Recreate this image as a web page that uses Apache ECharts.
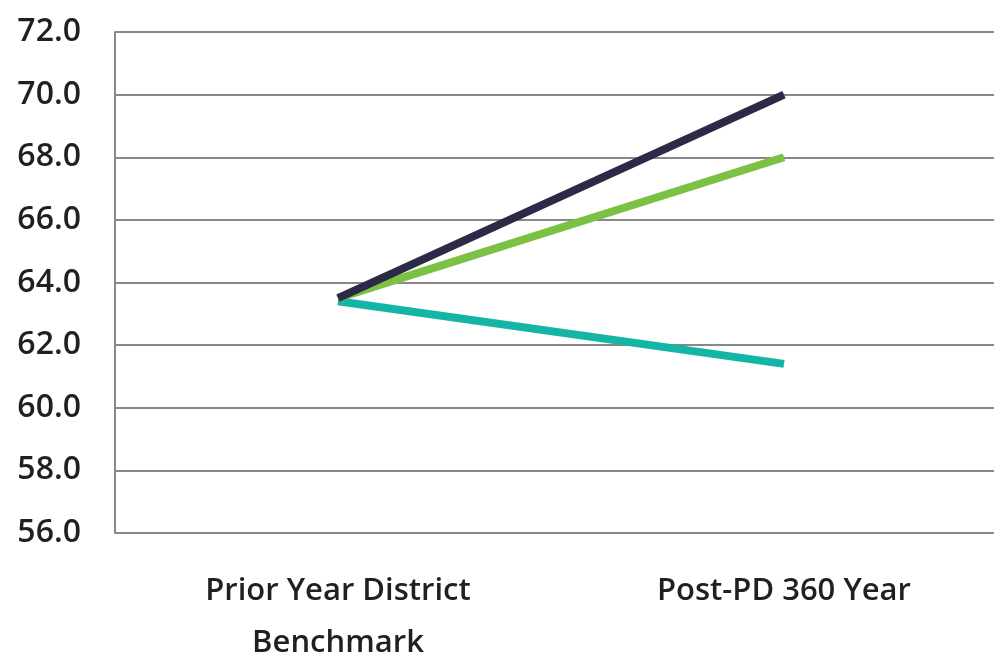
<!DOCTYPE html>
<html>
<head>
<meta charset="utf-8">
<script src="https://cdn.jsdelivr.net/npm/echarts@6/dist/echarts.min.js"></script>
<style>
  html, body { margin: 0; padding: 0; background: #fff; }
  #main { width: 994px; height: 660px; }
</style>
</head>
<body>
<div id="main"></div>
<script>
const categories = ['Prior Year District\nBenchmark', 'Post-PD 360 Year'];
const darkValues = [63.5, 70.0];
const greenValues = [63.5, 68.0];
const tealValues = [63.4, 61.4];

const myChart = echarts.init(document.getElementById('main'));

const lineSeries = function (name, data, color) {
    return {
        name: name,
        type: 'line',
        data: data,
        symbol: 'none',
        lineStyle: {color: color, width: 8, cap: 'butt'},
        emphasis: {disabled: true}
    };
};

let option = {
    animation: false,
    grid: {left: 115, right: -13, top: 32, bottom: 127, outerBoundsMode: 'none', containLabel: false},
    xAxis: {
        type: 'category',
        data: categories,
        boundaryGap: true,
        axisLine: {show: false},
        axisTick: {show: false},
        axisLabel: {
            margin: 32,
            color: '#231f20',
            fontFamily: 'Open Sans',
            fontWeight: 600,
            fontSize: 31,
            lineHeight: 52
        }
    },
    yAxis: {
        type: 'value',
        min: 56,
        max: 72,
        interval: 2,
        axisLine: {show: true, lineStyle: {color: '#888', width: 2}},
        axisTick: {show: false},
        splitLine: {lineStyle: {color: '#888', width: 2}},
        axisLabel: {
            margin: 34,
            color: '#231f20',
            fontFamily: 'Open Sans',
            fontWeight: 600,
            fontSize: 32,
            formatter: function (v) { return v.toFixed(1); }
        }
    },
    series: [
        lineSeries('Teal', tealValues, '#14b5a6'),
        lineSeries('Green', greenValues, '#7bc143'),
        lineSeries('Dark', darkValues, '#2d2a48')
    ]
};

myChart.setOption(option);
</script>
</body>
</html>
